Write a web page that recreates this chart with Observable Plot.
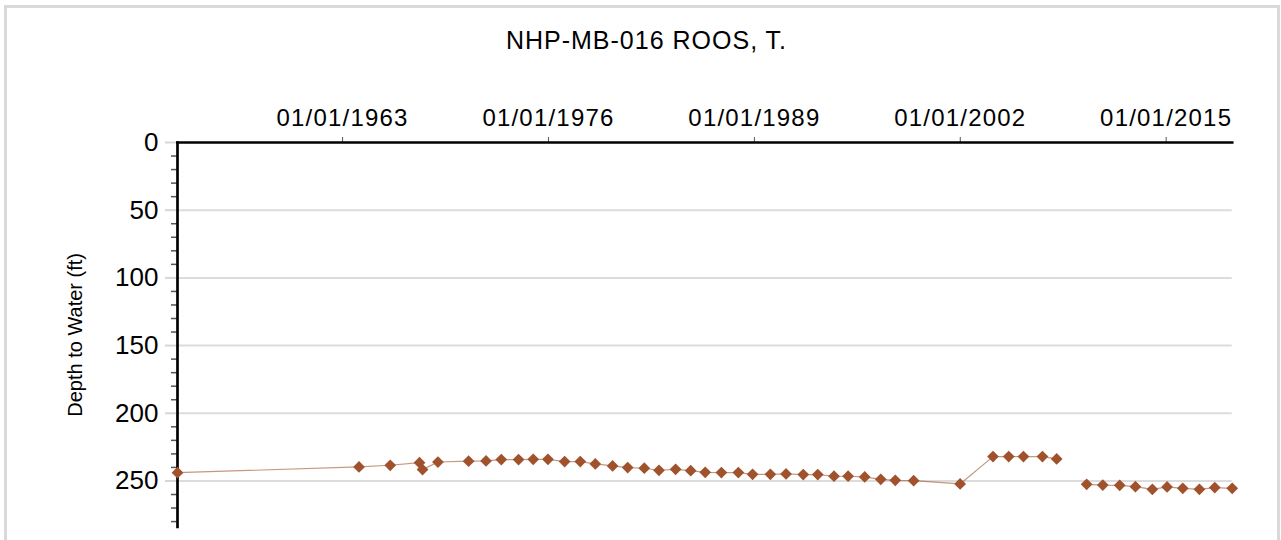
<!DOCTYPE html>
<html>
<head>
<meta charset="utf-8">
<script src="https://cdn.jsdelivr.net/npm/d3@7"></script>
<script src="https://cdn.jsdelivr.net/npm/@observablehq/plot@0.6"></script>
<style>
  html, body { margin: 0; padding: 0; background: #fff; overflow: hidden; }
  #wrap { position: relative; width: 1281px; height: 540px; overflow: hidden; font-family: "Liberation Sans", Arial, sans-serif; }
  #border { position: absolute; left: 4px; top: 5px; width: 1276px; height: 600px; box-sizing: border-box; border: 3px solid #d9d9d9; }
  #title { position: absolute; left: 6px; top: 28px; width: 1281px; text-align: center; font-size: 25px; line-height: 25px; letter-spacing: 1px; color: #000; }
  #chart { position: absolute; left: 0; top: 60px; }
  #chart g[aria-label="x-axis tick label"] text { letter-spacing: 1.2px; }
</style>
</head>
<body>
<div id="wrap">
  <div id="border"></div>
  <div id="title">NHP-MB-016 ROOS, T.</div>
  <div id="chart"></div>
</div>
<script>
// Measurement dates and depth to water (ft)
const dates = [
  "1952-07-30","1964-01-15","1966-01-04","1967-11-10","1968-01-19","1969-01-08",
  "1970-12-16","1972-01-22","1973-01-08","1974-02-10","1975-01-15","1975-12-20",
  "1977-01-08","1978-01-04","1978-12-16","1980-01-19","1981-01-01","1982-01-19",
  "1982-12-24","1984-01-11","1984-12-24","1985-11-24","1986-12-02","1987-12-28",
  "1988-11-20","1990-01-04","1991-01-01","1992-02-02","1993-01-01","1994-01-11",
  "1994-12-02","1995-12-20","1996-12-24","1997-11-24","1999-01-22","2001-12-28",
  "2004-01-26","2005-01-22","2005-12-28","2007-03-11","2008-02-02",
  "2009-12-24","2011-01-01","2012-01-26","2013-01-22","2014-02-17","2015-01-22",
  "2016-01-19","2017-02-06","2018-01-26","2019-03-04"
];
const depths = [
  243.9, 239.6, 238.4, 236.5, 241.6, 236.0,
  235.4, 235.2, 234.2, 234.2, 234.0, 234.0,
  235.7, 235.7, 237.4, 238.9, 240.1, 240.6,
  242.1, 241.4, 242.4, 243.6, 243.8, 243.8,
  245.1, 245.1, 244.8, 245.3, 245.3, 246.5,
  246.5, 247.0, 248.8, 249.5, 249.8, 252.2,
  232.0, 232.0, 232.0, 232.0, 233.7,
  252.5, 253.0, 253.2, 254.2, 256.2, 254.4,
  255.4, 256.2, 254.9, 255.4
];
// the line is broken after this measurement
const gapAfter = "2008-02-02";

const xTicks = ["1963-01-01", "1976-01-01", "1989-01-01", "2002-01-01", "2015-01-01"];
const yMajor = [0, 50, 100, 150, 200, 250];
const yGrid = [50, 100, 150, 200, 250];
const yMinor = [10, 20, 30, 40, 60, 70, 80, 90, 110, 120, 130, 140, 160, 170, 180, 190, 210, 220, 230, 240, 260, 270, 280];
const yLabel = "Depth to Water (ft)";

const gapDate = new Date(gapAfter);
const data = dates.map((d, i) => {
  const date = new Date(d);
  return { date, depth: depths[i], seg: date > gapDate ? 2 : 1 };
});

const chart = Plot.plot({
  width: 1281,
  height: 480,
  marginTop: 82,
  marginBottom: 13.5,
  marginLeft: 177,
  marginRight: 49.3,
  style: { fontFamily: "'Liberation Sans', Arial, sans-serif", color: "#000", background: "transparent", overflow: "visible" },
  x: { type: "utc", domain: d3.extent(data, d => d.date) },
  y: { domain: [0, 284], reverse: true },
  marks: [
    Plot.ruleY(yGrid, { stroke: "#dcdcdc", strokeWidth: 2 }),
    Plot.axisY({ ticks: yMajor, tickSize: 12, tickPadding: 7, stroke: "#d6d6d6", strokeWidth: 2, fill: "#000", fontSize: 26, label: null }),
    Plot.axisY({ ticks: yMinor, tickSize: 6, tickFormat: () => "", stroke: "#555", strokeWidth: 1.5, label: null }),
    Plot.axisX({ anchor: "top", ticks: xTicks.map(d => new Date(d)), tickFormat: d3.utcFormat("%m/%d/%Y"), tickSize: 6, tickPadding: 11, stroke: "#555", strokeWidth: 1, fill: "#000", fontSize: 24, label: null }),
    Plot.text([yLabel], { frameAnchor: "left", dx: -102, dy: 82, rotate: -90, fontSize: 20, fill: "#000" }),
    Plot.frame({ anchor: "left", stroke: "#000", strokeWidth: 2.7 }),
    Plot.frame({ anchor: "top", stroke: "#000", strokeWidth: 2.7 }),
    Plot.line(data, { x: "date", y: "depth", z: "seg", stroke: "#a0522d", strokeOpacity: 0.6, strokeWidth: 1.2 }),
    Plot.dot(data, { x: "date", y: "depth", symbol: "diamond2", r: 5.3, fill: "#a0522d", stroke: "none" })
  ]
});
document.getElementById("chart").appendChild(chart);
</script>
</body>
</html>
